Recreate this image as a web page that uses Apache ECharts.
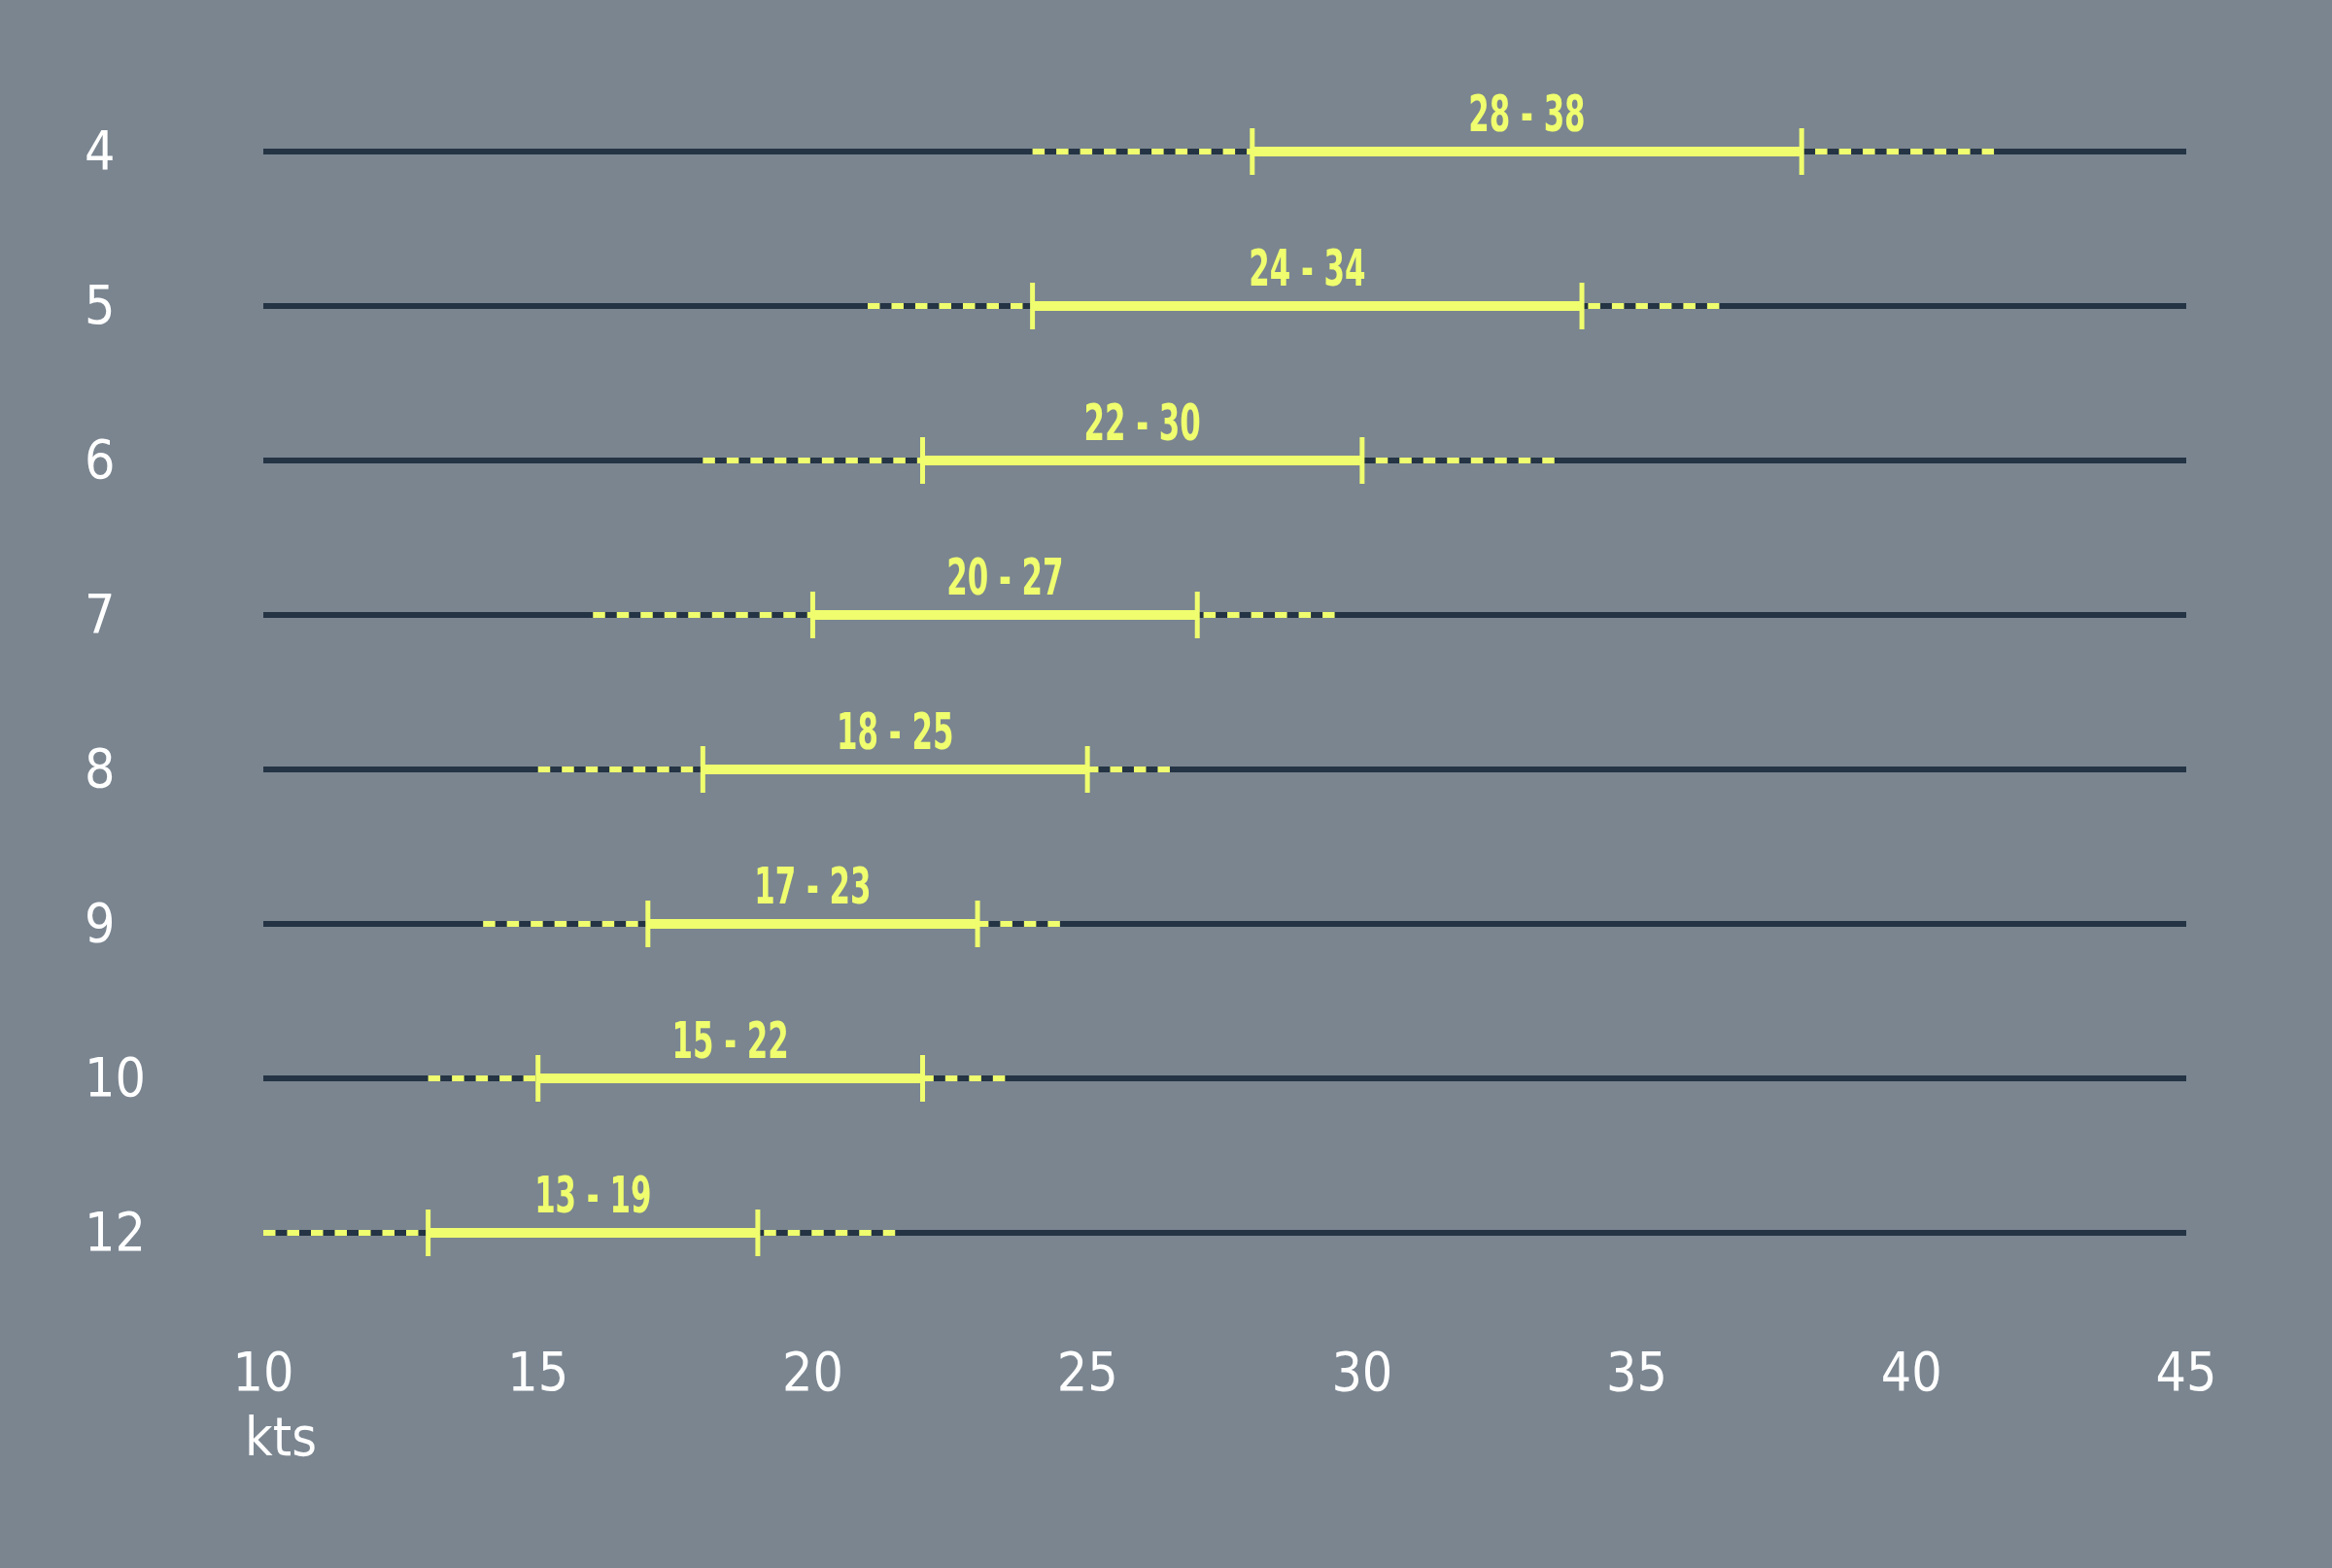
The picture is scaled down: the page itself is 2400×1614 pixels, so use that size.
<!DOCTYPE html>
<html>
<head>
<meta charset="utf-8">
<script src="https://cdn.jsdelivr.net/npm/echarts@6/dist/echarts.min.js"></script>
<style>
html,body{margin:0;padding:0;background:#7a8590;}
#chart{width:2400px;height:1614px;}
</style>
</head>
<body>
<div id="chart"></div>
<script>
// Categories (top to bottom)
const categories = ['4', '5', '6', '7', '8', '9', '10', '12'];
// Main range (solid)
const rangeLow  = [28, 24, 22, 20, 18, 17, 15, 13];
const rangeHigh = [38, 34, 30, 27, 25, 23, 22, 19];
// Extended range (dashed)
const extLow  = [24, 21, 18, 16, 15, 14, 13, 10];
const extHigh = [41.5, 36.5, 33.5, 29.5, 26.5, 24.5, 23.5, 21.5];
// X axis
const axisMin = 10;
const axisMax = 45;
const axisStep = 5;
const unitLabel = 'kts';

const FONT = "'DejaVu Sans Condensed', 'Liberation Sans Narrow', 'DejaVu Sans', sans-serif";
const YELLOW = '#effd6e';
const DARK = '#243444';
const AXIS_FS = 55;

const data = categories.map((c, i) => [i, rangeLow[i], rangeHigh[i], extLow[i], extHigh[i]]);

const chart = echarts.init(document.getElementById('chart'), null, {renderer: 'canvas'});

function renderItem(params, api) {
  const idx = api.value(0);
  const lo = api.value(1), hi = api.value(2), elo = api.value(3), ehi = api.value(4);
  const a0 = api.coord([axisMin, idx]);
  const a1 = api.coord([axisMax, idx]);
  const pLo = api.coord([lo, idx]);
  const pHi = api.coord([hi, idx]);
  const pElo = api.coord([elo, idx]);
  const pEhi = api.coord([ehi, idx]);
  const y = pLo[1];
  const children = [
    {type: 'line', shape: {x1: a0[0], y1: y, x2: a1[0], y2: y}, style: {stroke: DARK, lineWidth: 6}},
    {type: 'line', shape: {x1: pElo[0], y1: y, x2: pLo[0], y2: y}, style: {stroke: YELLOW, lineWidth: 6, lineDash: [12.5, 12]}},
    {type: 'line', shape: {x1: pEhi[0], y1: y, x2: pHi[0], y2: y}, style: {stroke: YELLOW, lineWidth: 6, lineDash: [12.5, 12]}},
    {type: 'line', shape: {x1: pLo[0], y1: y, x2: pHi[0], y2: y}, style: {stroke: YELLOW, lineWidth: 10}},
    {type: 'line', shape: {x1: pLo[0], y1: y - 24, x2: pLo[0], y2: y + 24}, style: {stroke: YELLOW, lineWidth: 5}},
    {type: 'line', shape: {x1: pHi[0], y1: y - 24, x2: pHi[0], y2: y + 24}, style: {stroke: YELLOW, lineWidth: 5}},
    {type: 'text', x: (pLo[0] + pHi[0]) / 2, y: y - 35, scaleX: 0.66, scaleY: 1,
      style: {text: lo + ' - ' + hi, fill: YELLOW, font: 'bold 52px ' + FONT, align: 'center', verticalAlign: 'middle'}}
  ];
  return {type: 'group', children: children};
}

chart.setOption({
  backgroundColor: '#7a8590',
  animation: false,
  grid: {left: 271, right: 150, top: 76.5, bottom: 265.5},
  xAxis: {
    type: 'value', min: axisMin, max: axisMax, interval: axisStep,
    axisLine: {show: false}, axisTick: {show: false}, splitLine: {show: false},
    axisLabel: {
      margin: 35, color: '#ffffff', fontFamily: FONT, fontSize: AXIS_FS, lineHeight: 66,
      formatter: v => v === axisMin ? '{a|' + v + '}\n{b|' + unitLabel + '}' : String(v),
      rich: {
        a: {color: '#ffffff', fontFamily: FONT, fontSize: AXIS_FS, lineHeight: 66},
        b: {color: '#ffffff', fontFamily: FONT, fontSize: AXIS_FS, lineHeight: 68, padding: [0, 0, 0, 36]}
      }
    }
  },
  yAxis: {
    type: 'category', data: categories, inverse: true,
    axisLine: {show: false}, axisTick: {show: false}, splitLine: {show: false},
    axisLabel: {
      margin: 184, align: 'left', color: '#ffffff', fontFamily: FONT, fontSize: AXIS_FS,
      formatter: v => '{c|' + v + '}',
      rich: {c: {color: '#ffffff', fontFamily: FONT, fontSize: AXIS_FS, lineHeight: 60, padding: [7, 0, 0, 0]}}
    }
  },
  series: [{
    type: 'custom',
    renderItem: renderItem,
    encode: {x: [1, 2, 3, 4], y: 0},
    data: data,
    clip: false
  }]
});
</script>
</body>
</html>
